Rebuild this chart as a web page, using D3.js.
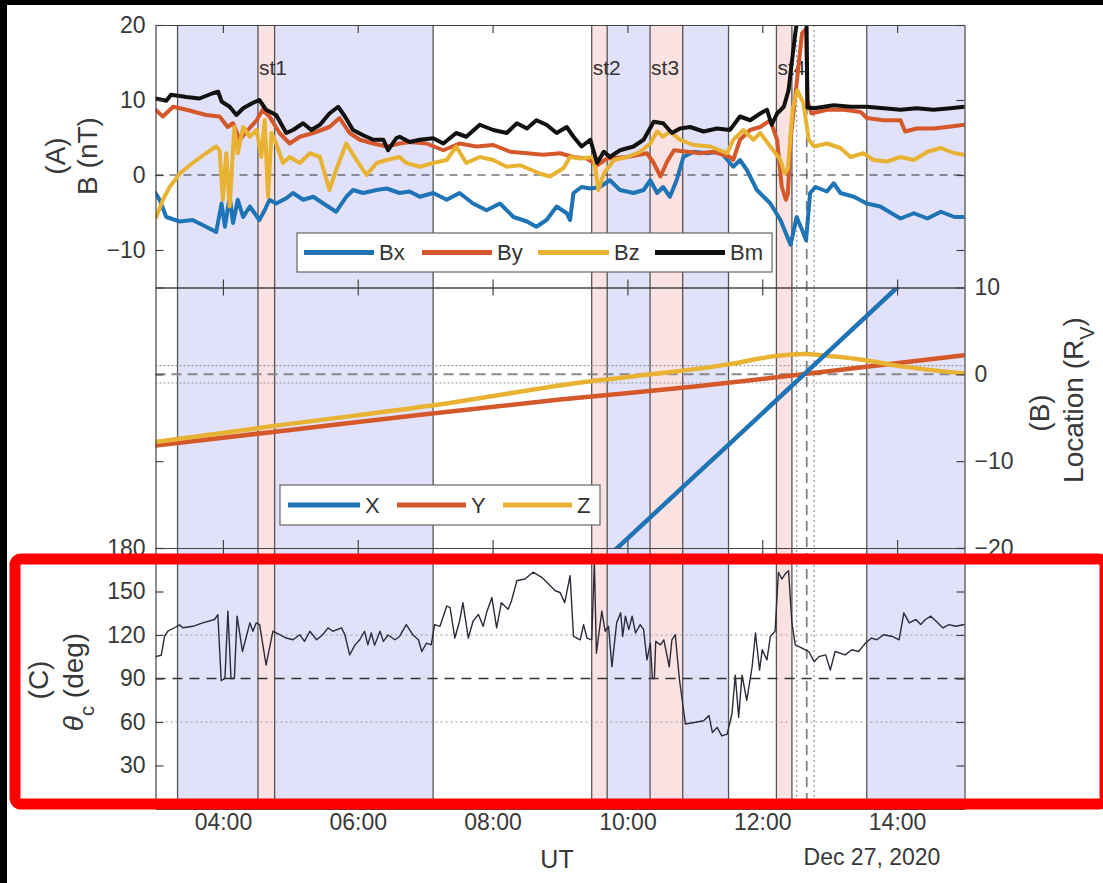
<!DOCTYPE html>
<html>
<head>
<meta charset="utf-8">
<script src="https://cdn.jsdelivr.net/npm/d3@7"></script>
<style>
  html, body { margin: 0; padding: 0; background: #fff; }
  svg { display: block; font-family: "Liberation Sans", Arial, Helvetica, sans-serif; }
</style>
</head>
<body>
<svg id="chart" width="1103" height="883"></svg>
<script>
// ---- data (time in decimal UT hours, Dec 27 2020) ----
const hourTicks = [4, 6, 8, 10, 12, 14];

const blueSpans = [[3.327, 4.52], [4.767, 7.118], [9.70, 10.336], [10.82, 11.50], [13.55, 15]];
const pinkSpans = [[4.52, 4.767], [9.47, 9.70], [10.336, 10.82], [12.21, 12.44]];
const boundaries = [3.327, 4.52, 4.767, 7.118, 9.47, 9.70, 10.336, 10.82, 11.50, 12.21, 12.44, 13.55];
const stormNames = ["st1", "st2", "st3", "st4"];
const stormStarts = [4.52, 9.47, 10.336, 12.21];
const dashedTime = 12.66;
const dottedTimes = [12.51, 12.77];

// panel A: magnetic field (nT)
const bx = [[3.00,-2.4],[3.06,-3.3],[3.16,-5.6],[3.36,-6.2],[3.55,-6.0],[3.75,-6.9],[3.90,-7.6],[3.98,-3.8],[4.03,-6.9],[4.10,-2.9],[4.15,-6.4],[4.22,-3.3],[4.30,-5.6],[4.40,-4.2],[4.54,-6.0],[4.62,-4.7],[4.69,-3.3],[4.79,-3.8],[4.94,-3.1],[5.04,-2.4],[5.19,-3.3],[5.34,-2.9],[5.49,-3.8],[5.68,-4.9],[5.83,-2.9],[5.93,-2.0],[6.08,-2.4],[6.28,-2.0],[6.43,-1.8],[6.62,-2.4],[6.77,-2.2],[6.92,-2.9],[7.12,-2.4],[7.32,-3.3],[7.51,-2.4],[7.71,-3.8],[7.91,-4.7],[8.11,-3.8],[8.31,-5.6],[8.51,-6.2],[8.65,-6.9],[8.80,-6.0],[8.95,-4.2],[9.10,-5.1],[9.15,-6.0],[9.20,-2.4],[9.32,-1.6],[9.45,-1.8],[9.59,-1.6],[9.74,-0.7],[9.89,-2.0],[10.09,-2.4],[10.24,-2.0],[10.34,-0.7],[10.44,-2.4],[10.53,-1.6],[10.63,-2.9],[10.73,-0.7],[10.83,2.4],[10.98,3.1],[11.18,2.9],[11.38,3.1],[11.57,1.1],[11.67,2.0],[11.77,0.7],[11.92,-2.0],[12.02,-2.9],[12.12,-3.8],[12.27,-6.0],[12.37,-8.2],[12.42,-9.3],[12.51,-5.6],[12.59,-7.3],[12.65,-8.7],[12.71,-2.4],[12.79,-1.6],[12.96,-2.2],[13.06,-1.1],[13.16,-2.4],[13.36,-2.9],[13.55,-3.8],[13.75,-4.2],[14.05,-5.8],[14.25,-5.1],[14.45,-5.8],[14.65,-4.9],[14.85,-5.6],[15.00,-5.6]];
const by = [[3.00,8.7],[3.11,7.8],[3.26,9.1],[3.46,8.7],[3.75,8.0],[3.95,7.8],[4.07,6.4],[4.15,6.9],[4.25,4.7],[4.37,6.0],[4.50,7.3],[4.59,8.7],[4.69,7.8],[4.84,5.6],[4.99,4.2],[5.14,5.1],[5.34,5.6],[5.58,6.4],[5.73,7.6],[5.88,5.6],[6.03,4.7],[6.23,4.2],[6.43,3.8],[6.62,4.2],[6.77,4.4],[7.02,4.2],[7.27,3.3],[7.51,4.2],[7.76,3.8],[8.01,4.0],[8.26,3.1],[8.51,2.9],[8.75,2.7],[9.00,2.9],[9.20,2.4],[9.40,2.2],[9.55,1.3],[9.70,2.2],[10.00,2.4],[10.29,2.9],[10.39,1.6],[10.49,-0.2],[10.59,1.8],[10.69,3.3],[10.89,3.1],[11.08,2.9],[11.28,3.1],[11.52,2.4],[11.57,2.0],[11.67,4.7],[11.82,6.0],[11.97,6.4],[12.12,7.3],[12.22,4.7],[12.29,-1.6],[12.35,-3.3],[12.38,-2.5],[12.42,4.7],[12.51,12.2],[12.59,18.9],[12.65,19.5],[12.67,10.0],[12.73,8.2],[12.96,8.7],[13.21,8.7],[13.46,8.4],[13.55,7.6],[13.80,7.3],[14.05,7.3],[14.12,5.8],[14.29,6.2],[14.54,6.2],[14.74,6.4],[15.00,6.7]];
const bz = [[3.01,-5.6],[3.11,-3.3],[3.21,-1.6],[3.36,0.2],[3.55,1.6],[3.75,2.9],[3.90,3.8],[3.95,3.3],[4.00,-3.3],[4.05,2.9],[4.10,-4.2],[4.17,6.4],[4.22,2.9],[4.30,6.4],[4.40,5.1],[4.50,6.0],[4.57,2.4],[4.62,7.3],[4.67,-2.9],[4.72,5.6],[4.79,4.2],[4.89,1.6],[4.99,2.4],[5.14,1.6],[5.29,2.9],[5.44,2.4],[5.58,-2.0],[5.68,0.7],[5.83,4.2],[5.98,2.0],[6.13,0.0],[6.28,1.6],[6.43,2.0],[6.62,2.4],[6.72,1.6],[6.92,1.1],[7.12,1.6],[7.32,2.0],[7.46,3.8],[7.61,1.6],[7.81,2.4],[8.01,2.0],[8.21,1.1],[8.41,1.3],[8.70,0.2],[8.85,-0.2],[9.05,0.9],[9.15,2.4],[9.30,2.2],[9.50,2.4],[9.57,-2.0],[9.65,0.2],[9.80,2.0],[10.00,2.4],[10.19,3.1],[10.34,4.2],[10.44,5.8],[10.53,5.1],[10.63,5.8],[10.78,4.7],[10.98,4.0],[11.23,3.8],[11.48,2.9],[11.57,4.7],[11.72,6.0],[11.87,4.7],[11.97,5.6],[12.12,3.8],[12.27,2.0],[12.33,0.2],[12.38,0.8],[12.45,8.7],[12.52,11.3],[12.61,9.6],[12.69,4.7],[12.77,3.8],[12.96,4.2],[13.16,3.6],[13.31,2.4],[13.50,2.9],[13.65,2.0],[13.85,1.8],[14.05,2.4],[14.25,2.0],[14.45,3.1],[14.65,3.6],[14.85,2.9],[15.00,2.7]];
const bm = [[3.00,10.2],[3.16,9.9],[3.23,10.7],[3.46,10.4],[3.65,10.2],[3.85,10.9],[3.93,11.1],[3.98,9.8],[4.10,9.1],[4.20,8.0],[4.30,8.9],[4.44,9.6],[4.54,10.0],[4.64,8.7],[4.79,8.0],[4.94,5.6],[5.04,6.0],[5.19,6.9],[5.31,6.0],[5.44,6.7],[5.58,8.2],[5.71,9.1],[5.81,7.8],[5.93,6.0],[6.08,5.3],[6.23,4.7],[6.38,4.7],[6.45,3.3],[6.57,4.9],[6.62,5.1],[6.77,4.4],[6.92,4.7],[7.12,4.9],[7.27,4.2],[7.46,5.6],[7.61,5.1],[7.81,6.7],[8.01,6.0],[8.21,5.6],[8.36,6.9],[8.51,6.2],[8.65,7.3],[8.80,6.7],[8.95,5.6],[9.10,6.4],[9.20,5.1],[9.32,3.8],[9.45,4.7],[9.55,1.6],[9.65,3.1],[9.74,2.4],[9.89,3.3],[10.09,3.8],[10.24,4.7],[10.39,7.1],[10.53,6.9],[10.66,5.6],[10.78,6.2],[10.93,6.4],[11.13,5.8],[11.33,6.2],[11.52,6.0],[11.67,7.8],[11.82,7.3],[11.97,8.2],[12.07,8.7],[12.14,6.7],[12.22,8.2],[12.32,9.1],[12.39,11.3],[12.49,18.9],[12.56,23.0],[12.65,26.0],[12.67,9.0],[12.77,8.9],[13.06,9.3],[13.31,9.1],[13.55,9.1],[13.80,8.9],[14.05,8.7],[14.29,8.9],[14.54,8.7],[14.79,8.9],[15.00,9.1]];

// panel B: spacecraft location (R_V)
const posX = [[9.60,-21.8],[11.00,-11.7],[12.00,-4.5],[12.62,0],[14.00,10.0]];
const posY = [[3,-8.2],[5,-6.4],[7,-4.6],[9,-2.9],[11,-1.4],[12.6,0],[15,2.2]];
const posZ = [[3,-7.8],[4.8,-5.9],[7.1,-3.6],[9.45,-0.8],[10.35,0],[11.5,1.15],[12.2,2.1],[12.6,2.35],[13.0,2.1],[13.55,1.6],[14.0,1.0],[15,0.1]];

// panel C: cone angle (deg)
const theta = [[3.00,105.1],[3.085,106],[3.134,119],[3.183,122.6],[3.28,125],[3.356,127],[3.405,125],[3.554,126],[3.70,128.4],[3.876,130.7],[3.925,134],[3.975,88.5],[4.03,90],[4.074,136.5],[4.12,90],[4.17,90],[4.21,133],[4.29,108.6],[4.40,128.4],[4.445,122.6],[4.495,128.4],[4.545,127.2],[4.64,99.3],[4.742,122.6],[4.84,120.2],[4.94,117.9],[5.04,116.7],[5.14,120.2],[5.21,115.6],[5.29,122.6],[5.39,116.7],[5.48,120.2],[5.56,124.9],[5.63,122.6],[5.76,124.9],[5.81,120],[5.88,106.3],[5.96,113.2],[6.03,116.7],[6.10,122.6],[6.15,113.2],[6.20,121.4],[6.25,113],[6.33,122.6],[6.38,115.6],[6.45,120],[6.55,116.7],[6.62,119],[6.72,127.2],[6.82,120],[6.90,116.7],[6.95,108.6],[7.02,114.4],[7.09,113.2],[7.14,127.2],[7.22,126],[7.32,140],[7.37,138.8],[7.44,117.9],[7.51,129.5],[7.56,142.3],[7.64,117.9],[7.71,129.5],[7.79,134.2],[7.86,126],[7.91,135.3],[7.99,145.8],[8.06,124.9],[8.13,142.3],[8.23,137.7],[8.28,143.5],[8.36,157.4],[8.48,158.6],[8.60,163.3],[8.73,159.8],[8.83,155.1],[8.93,150.5],[9.00,149.3],[9.07,142.3],[9.15,160.9],[9.20,119],[9.30,116.7],[9.35,127.2],[9.40,117.9],[9.47,116.7],[9.51,170],[9.54,107.4],[9.62,136.5],[9.67,122.6],[9.72,126],[9.77,98.1],[9.84,128.4],[9.90,135.3],[9.93,119],[9.97,133],[10.02,123.7],[10.07,133],[10.12,121.4],[10.19,127.2],[10.24,123.7],[10.29,102.8],[10.34,114.4],[10.37,90],[10.40,90],[10.42,115.6],[10.49,113.2],[10.54,116.7],[10.62,98.1],[10.66,116.7],[10.71,120.2],[10.77,90],[10.86,58.6],[11.01,59.8],[11.13,60.9],[11.21,64.4],[11.26,52.8],[11.33,56.3],[11.40,50.4],[11.48,51.6],[11.55,65.5],[11.60,92.3],[11.65,63.3],[11.70,92.3],[11.77,74.9],[11.85,98.1],[11.90,121.4],[11.96,95.8],[12.00,109.8],[12.07,102.8],[12.12,119],[12.19,122.6],[12.24,163.3],[12.29,158.6],[12.34,162],[12.39,164.4],[12.44,128.4],[12.49,113.2],[12.59,110.9],[12.69,108.6],[12.77,101.6],[12.84,105.1],[12.94,106.3],[13.01,95.8],[13.08,108.6],[13.23,106.3],[13.33,109.8],[13.43,108.6],[13.53,114.4],[13.62,117.9],[13.70,116.7],[13.80,120.2],[13.93,119],[14.03,116.7],[14.10,135.3],[14.18,128.4],[14.28,130.7],[14.35,127.2],[14.42,130.7],[14.50,133],[14.58,129.5],[14.68,124.9],[14.77,127.2],[14.87,126],[15.00,127.2]];

// ---- drawing ----
const svg = d3.select("#chart");
const tickColor = "#444";
const textColor = "#383838";
const fontSize = 23;
const labelSize = 28;

const x = d3.scaleLinear().domain([3, 15]).range([155.5, 964.5]);
const yA = d3.scaleLinear().domain([-15, 20]).range([287.5, 25]);
const yB = d3.scaleLinear().domain([-20, 10]).range([548, 287.5]);
const yC = d3.scaleLinear().domain([0, 180]).range([809, 548]);
const plotTop = 25, plotBottom = 809;
const fmtHour = h => d3.format("02")(h) + ":00";

const bg = svg.append("g");
bg.selectAll("rect.blue").data(blueSpans).join("rect")
  .attr("x", d => x(d[0])).attr("y", plotTop)
  .attr("width", d => x(d[1]) - x(d[0])).attr("height", plotBottom - plotTop)
  .attr("fill", "#e1e1f9");
bg.selectAll("rect.pink").data(pinkSpans).join("rect")
  .attr("x", d => x(d[0])).attr("y", plotTop)
  .attr("width", d => x(d[1]) - x(d[0])).attr("height", plotBottom - plotTop)
  .attr("fill", "#fbe2e2");

bg.selectAll("line.bound").data(boundaries).join("line")
  .attr("x1", d => x(d)).attr("x2", d => x(d))
  .attr("y1", plotTop).attr("y2", plotBottom)
  .attr("stroke", "#555").attr("stroke-width", 1.3);

bg.append("line")
  .attr("x1", x(dashedTime)).attr("x2", x(dashedTime))
  .attr("y1", plotTop).attr("y2", plotBottom)
  .attr("stroke", "#808080").attr("stroke-width", 1.8).attr("stroke-dasharray", "10,6");
bg.selectAll("line.dot").data(dottedTimes).join("line")
  .attr("x1", d => x(d)).attr("x2", d => x(d))
  .attr("y1", plotTop).attr("y2", plotBottom)
  .attr("stroke", "#9a9a9a").attr("stroke-width", 1.3).attr("stroke-dasharray", "2,3");

// horizontal reference lines
function hline(y, val, style) {
  bg.append("line")
    .attr("x1", x(3)).attr("x2", x(15)).attr("y1", y(val)).attr("y2", y(val))
    .attr("stroke", style.color).attr("stroke-width", style.width)
    .attr("stroke-dasharray", style.dash);
}
hline(yA, 0, { color: "#333", width: 1.2, dash: "8,6" });
hline(yB, 0, { color: "#888", width: 2, dash: "10,6" });
hline(yB, 1, { color: "#9a9a9a", width: 1.2, dash: "2,2" });
hline(yB, -1, { color: "#9a9a9a", width: 1.2, dash: "2,2" });
hline(yC, 90, { color: "#333", width: 1.3, dash: "10,7" });
hline(yC, 60, { color: "#9a9a9a", width: 1.2, dash: "2,3" });
hline(yC, 120, { color: "#9a9a9a", width: 1.2, dash: "2,3" });

// storm labels
bg.selectAll("text.st").data(stormStarts).join("text")
  .attr("x", d => x(d) + 1).attr("y", 75)
  .attr("font-size", 21).attr("fill", "#333")
  .text((d, i) => stormNames[i]);

// clip paths
const defs = svg.append("defs");
function clip(id, y) {
  defs.append("clipPath").attr("id", id).append("rect")
    .attr("x", x(3)).attr("y", y.range()[1])
    .attr("width", x(15) - x(3)).attr("height", y.range()[0] - y.range()[1]);
}
clip("clipA", yA); clip("clipB", yB); clip("clipC", yC);

function drawLine(data, y, clipId, color, width, curve) {
  const line = d3.line().x(d => x(d[0])).y(d => y(d[1])).curve(curve || d3.curveLinear);
  svg.append("path").datum(data)
    .attr("clip-path", `url(#${clipId})`)
    .attr("d", line).attr("fill", "none")
    .attr("stroke", color).attr("stroke-width", width)
    .attr("stroke-linejoin", "round").attr("stroke-linecap", "round");
}

const colBx = "#1f74b6", colBy = "#d4582a", colBz = "#e8b232", colBm = "#111";
drawLine(bx, yA, "clipA", colBx, 4);
drawLine(by, yA, "clipA", colBy, 4);
drawLine(bz, yA, "clipA", colBz, 4);
drawLine(bm, yA, "clipA", colBm, 4);

drawLine(posY, yB, "clipB", colBy, 4.5, d3.curveMonotoneX);
drawLine(posZ, yB, "clipB", colBz, 4.5, d3.curveMonotoneX);
drawLine(posX, yB, "clipB", colBx, 4.5, d3.curveMonotoneX);

drawLine(theta, yC, "clipC", "#2b2b3a", 1.4);

// axes (MATLAB style: inward ticks, box on)
function styleAxis(g) {
  g.select(".domain").attr("stroke", tickColor).attr("stroke-width", 1.2);
  g.selectAll(".tick line").attr("stroke", tickColor).attr("stroke-width", 1.2);
  g.selectAll(".tick text").attr("fill", textColor).attr("font-size", fontSize)
    .attr("font-family", '"Liberation Sans", Arial, sans-serif');
  g.attr("font-family", null).attr("font-size", null);
}

const panels = [
  { y: yA, ticks: [-10, 0, 10, 20], left: true, right: false },
  { y: yB, ticks: [-20, -10, 0, 10], left: false, right: true },
  { y: yC, ticks: [30, 60, 90, 120, 150, 180], left: true, right: false },
];
panels.forEach((p, i) => {
  const top = p.y.range()[1], bottom = p.y.range()[0];
  svg.append("g").attr("transform", `translate(0,${top})`)
    .call(d3.axisTop(x).tickValues(hourTicks).tickSize(-8).tickSizeOuter(0).tickFormat(""))
    .call(styleAxis);
  svg.append("g").attr("transform", `translate(0,${bottom})`)
    .call(d3.axisBottom(x).tickValues(hourTicks).tickSize(-8).tickSizeOuter(0)
      .tickPadding(5).tickFormat(i === 2 ? fmtHour : ""))
    .call(styleAxis);
  svg.append("g").attr("transform", `translate(${x(3)},0)`)
    .call(d3.axisLeft(p.y).tickValues(p.ticks).tickSize(-8).tickSizeOuter(0)
      .tickPadding(10).tickFormat(p.left ? d3.format("d") : ""))
    .call(styleAxis);
  svg.append("g").attr("transform", `translate(${x(15)},0)`)
    .call(d3.axisRight(p.y).tickValues(p.ticks).tickSize(-8).tickSizeOuter(0)
      .tickPadding(10).tickFormat(p.right ? d3.format("d") : ""))
    .call(styleAxis);
});

// legends
function legend(box, items) {
  const g = svg.append("g");
  g.append("rect").attr("x", box[0]).attr("y", box[1]).attr("width", box[2]).attr("height", box[3])
    .attr("fill", "#fff").attr("stroke", "#666").attr("stroke-width", 1.2);
  const cy = box[1] + box[3] / 2;
  items.forEach(it => {
    g.append("line").attr("x1", it.x0).attr("x2", it.x1).attr("y1", cy).attr("y2", cy)
      .attr("stroke", it.color).attr("stroke-width", 5);
    g.append("text").attr("x", it.x1 + 5).attr("y", cy).attr("dy", "0.36em")
      .attr("font-size", 22).attr("fill", "#333").text(it.label);
  });
}
const fieldNames = ["Bx", "By", "Bz", "Bm"];
const posNames = ["X", "Y", "Z"];
legend([297, 233, 475, 39], [
  { x0: 304, x1: 374, color: colBx, label: fieldNames[0] },
  { x0: 422, x1: 492, color: colBy, label: fieldNames[1] },
  { x0: 538, x1: 609, color: colBz, label: fieldNames[2] },
  { x0: 655, x1: 725, color: colBm, label: fieldNames[3] },
]);
legend([280, 485, 320, 40], [
  { x0: 288, x1: 360, color: colBx, label: posNames[0] },
  { x0: 397, x1: 466, color: colBy, label: posNames[1] },
  { x0: 503, x1: 572, color: colBz, label: posNames[2] },
]);

// axis titles
function vlabel(cx, cy, parts) {
  const t = svg.append("text").attr("transform", `translate(${cx},${cy}) rotate(-90)`)
    .attr("text-anchor", "middle").attr("dy", "0.35em")
    .attr("font-size", labelSize).attr("fill", textColor);
  parts.forEach(p => {
    const s = t.append("tspan").text(p.t);
    if (p.sub) s.attr("baseline-shift", "sub").attr("font-size", 20);
    if (p.it) s.attr("font-style", "italic");
  });
}
vlabel(55, 156, [{ t: "(A)" }]);
vlabel(87, 156, [{ t: "B (nT)" }]);
vlabel(1039, 413, [{ t: "(B)" }]);
vlabel(1073, 400, [{ t: "Location (R" }, { t: "V", sub: true }, { t: ")" }]);
vlabel(38, 680, [{ t: "(C)" }]);
vlabel(73, 682, [{ t: "θ", it: true }, { t: "c", sub: true }, { t: " (deg)" }]);

svg.append("text").attr("x", 557).attr("y", 868).attr("text-anchor", "middle")
  .attr("font-size", 25).attr("fill", textColor).text("UT");
svg.append("text").attr("x", 872).attr("y", 865).attr("text-anchor", "middle")
  .attr("font-size", fontSize).attr("fill", textColor).text("Dec 27, 2020");

// highlight box around panel C
svg.append("rect").attr("x", 15).attr("y", 559).attr("width", 1090).attr("height", 245)
  .attr("rx", 6).attr("fill", "none").attr("stroke", "#ff0000").attr("stroke-width", 11);

// photo border
svg.append("rect").attr("x", 0).attr("y", 0).attr("width", 1103).attr("height", 5).attr("fill", "#000");
svg.append("rect").attr("x", 0).attr("y", 0).attr("width", 7).attr("height", 883).attr("fill", "#000");
</script>
</body>
</html>
